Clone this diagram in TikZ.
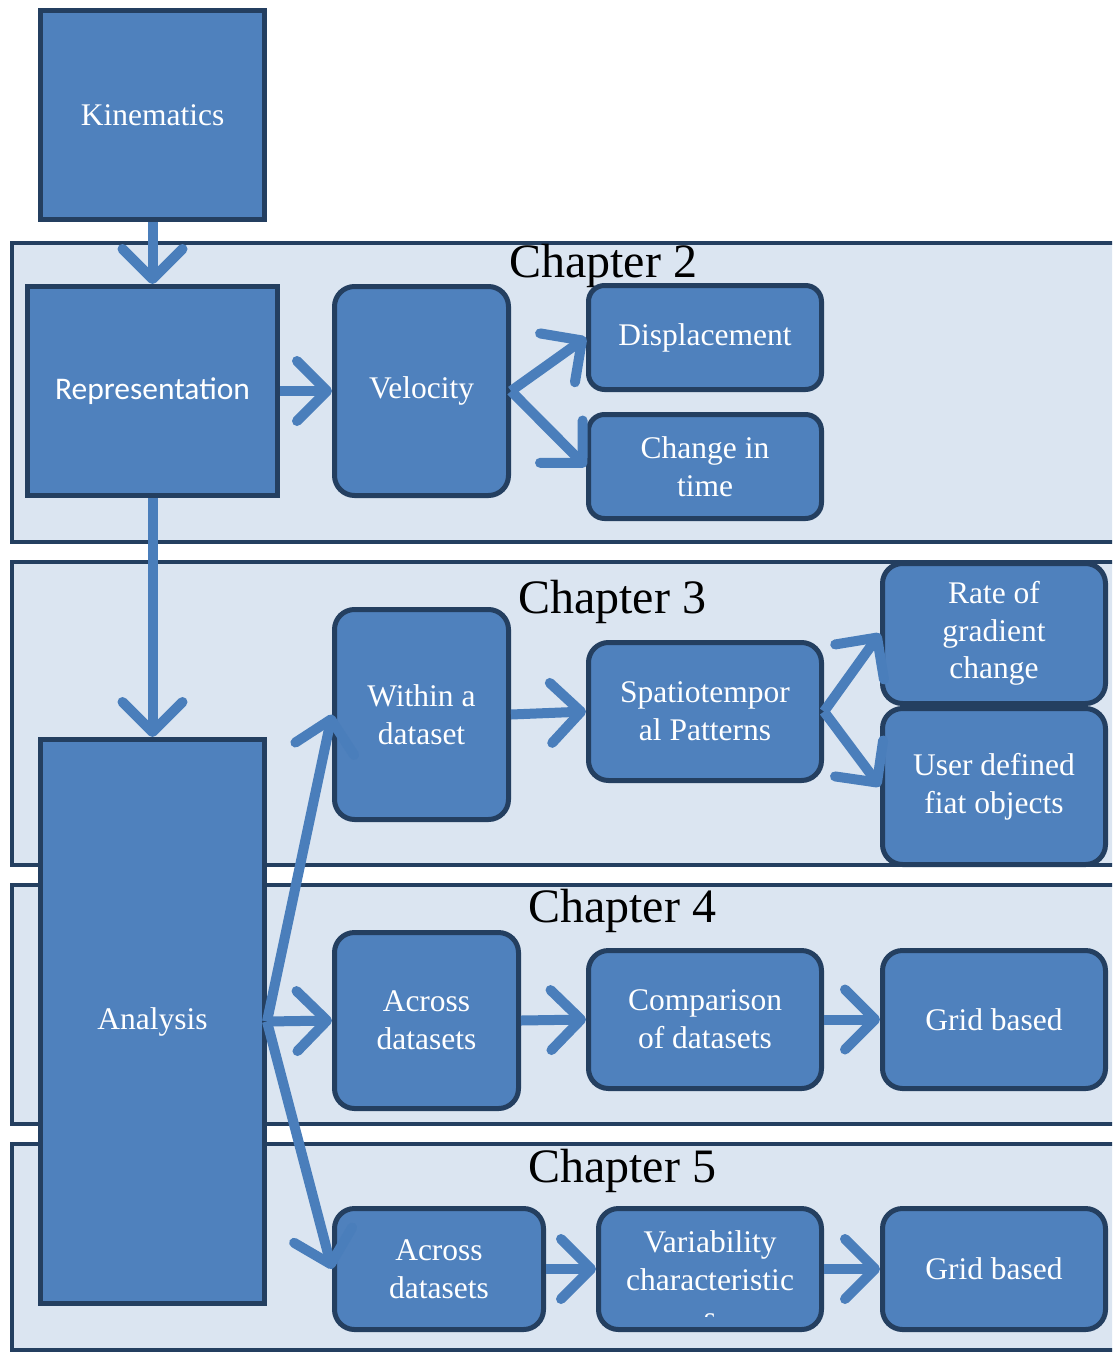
\documentclass[tikz,border=0pt]{standalone}
\usepackage{fontspec}
\setmainfont{Liberation Serif}
\newfontfamily\calibfont{Carlito}
\usetikzlibrary{arrows.meta}
\definecolor{boxblue}{HTML}{4F81BD}
\definecolor{edgenavy}{HTML}{243F60}
\definecolor{bandfill}{HTML}{DBE5F1}
\definecolor{linkblue}{HTML}{4A7EBB}

\tikzset{
  box/.style={draw=edgenavy, fill=boxblue, line width=5pt, text=white,
    align=center, inner sep=0pt,
    font=\fontsize{31.5}{37.8}\selectfont},
  rbox/.style={box, rounded corners=20pt},
  sbox/.style={box, rounded corners=16pt},
  boxtext/.style={text=white, align=center, inner sep=0pt,
    font=\fontsize{31.5}{37.8}\selectfont},
  band/.style={draw=edgenavy, fill=bandfill, line width=4pt},
  chap/.style={anchor=base, inner sep=0pt, text=black,
    font=\fontsize{48}{56}\selectfont},
  link/.style={draw=linkblue, line width=10pt,
    -{Straight Barb[length=30pt,width=60pt,round]}},
}

\begin{document}
\begin{tikzpicture}[x=1pt, y=-1pt]
\useasboundingbox (0,0) rectangle (1112,1352);
\clip (0,0) rectangle (1112,1352);

% chapter bands
\draw[band] (12,243) rectangle (1140,542);
\draw[band] (12,562) rectangle (1140,865);
\draw[band] (12,885) rectangle (1140,1124);
\draw[band] (12,1144) rectangle (1140,1350);

\node[chap] (ch2) at (603,277) {Chapter 2};
\node[chap] (ch3) at (612,613) {Chapter 3};
\node[chap] (ch4) at (622,922) {Chapter 4};
\node[chap] (ch5) at (622,1182) {Chapter 5};

% main column
\node[box, minimum width=224pt, minimum height=209pt] (kin) at (152.5,115) {Kinematics};
\node[box, minimum width=250pt, minimum height=209pt, font=\calibfont\fontsize{31.5}{37.8}\selectfont] (rep) at (152.5,391) {Representation};
\node[box, minimum width=224pt, minimum height=564pt] (ana) at (152.5,1021.5) {Analysis};

% chapter 2
\node[rbox, minimum width=174pt, minimum height=209pt] (vel) at (421.5,391) {Velocity};
\node[sbox, minimum width=233pt, minimum height=104pt] (disp) at (705,337.5) {Displacement};
\node[sbox, minimum width=233pt, minimum height=104pt] (cit) at (705,466.5) {Change in\\time};

% chapter 3
\node[rbox, minimum width=174pt, minimum height=210pt] (within) at (421.5,714.5) {Within a\\dataset};
\node[rbox, minimum width=233pt, minimum height=138pt] (spat) at (705,711.5) {Spatiotempor\\al Patterns};
\node[rbox, minimum width=223pt, minimum height=140pt] (rate) at (994,633.5) {Rate of\\gradient\\change};
\node[rbox, minimum width=223pt, minimum height=156pt] (user) at (994,786.5) {User defined\\fiat objects};

% chapter 4
\node[rbox, minimum width=184pt, minimum height=176pt] (acr4) at (426.5,1020.5) {Across\\datasets};
\node[rbox, minimum width=233pt, minimum height=138pt] (comp) at (705,1019.5) {Comparison\\of datasets};
\node[rbox, minimum width=223pt, minimum height=138pt] (grid4) at (994,1019.5) {Grid based};

% chapter 5
\node[rbox, minimum width=209pt, minimum height=121pt] (acr5) at (439,1269) {Across\\datasets};
\node[rbox, minimum width=223pt, minimum height=121pt] (var) at (710,1269) {};
\begin{scope}
  \clip (600,1210) rectangle (820,1316);
  \node[boxtext] (vartext) at (710,1280) {Variability\\characteristic\\s};
\end{scope}
\node[rbox, minimum width=223pt, minimum height=121pt] (grid5) at (994,1269) {Grid based};

% connectors
\draw[link] (kin.south) -- (rep.north);
\draw[link] (rep.east) -- (vel.west);
\draw[link] (vel.east) -- (disp.west);
\draw[link] (vel.east) -- (cit.west);
\draw[link] (rep.south) -- (ana.north);
\draw[link] (ana.east) -- (within.west);
\draw[link] (ana.east) -- (acr4.west);
\draw[link] (ana.east) -- (acr5.west);
\draw[link] (within.east) -- (spat.west);
\draw[link] (spat.east) -- (rate.west);
\draw[link] (spat.east) -- (user.west);
\draw[link] (acr4.east) -- (comp.west);
\draw[link] (comp.east) -- (grid4.west);
\draw[link] (acr5.east) -- (var.west);
\draw[link] (var.east) -- (grid5.west);
\end{tikzpicture}
\end{document}
